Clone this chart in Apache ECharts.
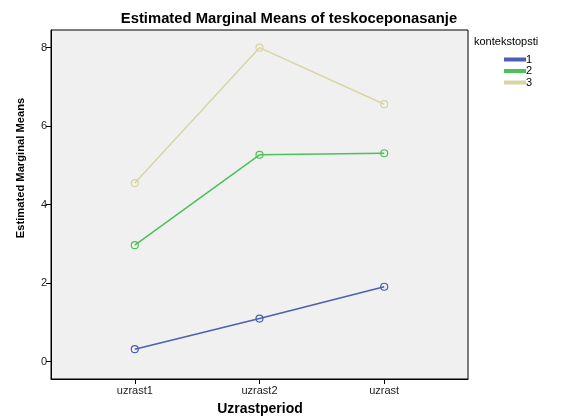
<!DOCTYPE html>
<html><head><meta charset="utf-8">
<script src="https://cdn.jsdelivr.net/npm/echarts@6/dist/echarts.min.js"></script>
<style>html,body{margin:0;padding:0;background:#fff}#c{width:564px;height:418px}</style>
</head><body><div id="c"></div>
<script>
const categories = ['uzrast1', 'uzrast2', 'uzrast'];
const seriesNames = ['1', '2', '3'];
const values1 = [0.32, 1.10, 1.91];
const values2 = [2.97, 5.27, 5.31];
const values3 = [4.55, 8.00, 6.56];
const yTicks = [0, 2, 4, 6, 8];
const colors = ['#4a5fb5', '#4cc158', '#d9d5a0'];

const allValues = [values1, values2, values3];
const F = 'Liberation Sans, Arial, sans-serif';
const chart = echarts.init(document.getElementById('c'));
chart.setOption({
  backgroundColor: '#fff',
  animation: false,
  grid: { left: 51, top: 30, width: 417, height: 349, show: true, backgroundColor: '#f0f0f0', borderColor: '#000', borderWidth: 1 },
  legend: { left: 499, top: 49, orient: 'vertical', itemWidth: 20, itemHeight: 2, itemGap: 0.5,
    icon: 'rect', textStyle: { fontFamily: F, fontSize: 11, color: '#000', padding: [0, 0, 0, -4] },
    data: seriesNames.map((n, i) => ({ name: n, itemStyle: { color: colors[i] } })) },
  xAxis: { type: 'value', min: 0.328, max: 3.672,
    axisLine: { show: true, onZero: false, lineStyle: { color: '#000' } },
    axisTick: { show: true, customValues: [1, 2, 3], length: 5, lineStyle: { color: '#000' } },
    axisLabel: { customValues: [1, 2, 3], formatter: v => categories[Math.round(v) - 1], fontFamily: F, fontSize: 11, color: '#222', margin: 6 },
    splitLine: { show: false } },
  yAxis: { type: 'value', min: -0.44, max: 8.45,
    axisLine: { show: true, onZero: false, lineStyle: { color: '#000' } },
    axisTick: { show: true, customValues: yTicks, length: 5, lineStyle: { color: '#000' } },
    axisLabel: { customValues: yTicks, fontFamily: F, fontSize: 11, color: '#222', margin: 4 },
    splitLine: { show: false } },
  graphic: [
    { type: 'text', x: 289, y: 19, style: { text: 'Estimated Marginal Means of teskoceponasanje', font: 'bold 14.8px ' + F, fill: '#000', align: 'center', verticalAlign: 'middle' } },
    { type: 'text', left: 474, top: 36, style: { text: 'kontekstopsti', font: '11px ' + F, fill: '#000' } },
    { type: 'text', x: 21, y: 168, rotation: Math.PI / 2, style: { text: 'Estimated Marginal Means', font: 'bold 11.2px ' + F, fill: '#000', align: 'center', verticalAlign: 'middle' } },
    { type: 'text', x: 260, y: 409, style: { text: 'Uzrastperiod', font: 'bold 14px ' + F, fill: '#000', align: 'center', verticalAlign: 'middle' } }
  ],
  series: allValues.map((vals, i) => ({
    name: seriesNames[i], type: 'line',
    data: vals.map((v, j) => [j + 1, v]),
    symbol: 'circle', symbolSize: 7,
    itemStyle: { color: 'transparent', borderColor: colors[i], borderWidth: 1.2 },
    lineStyle: { color: colors[i], width: 1.5 }
  }))
});
</script></body></html>
